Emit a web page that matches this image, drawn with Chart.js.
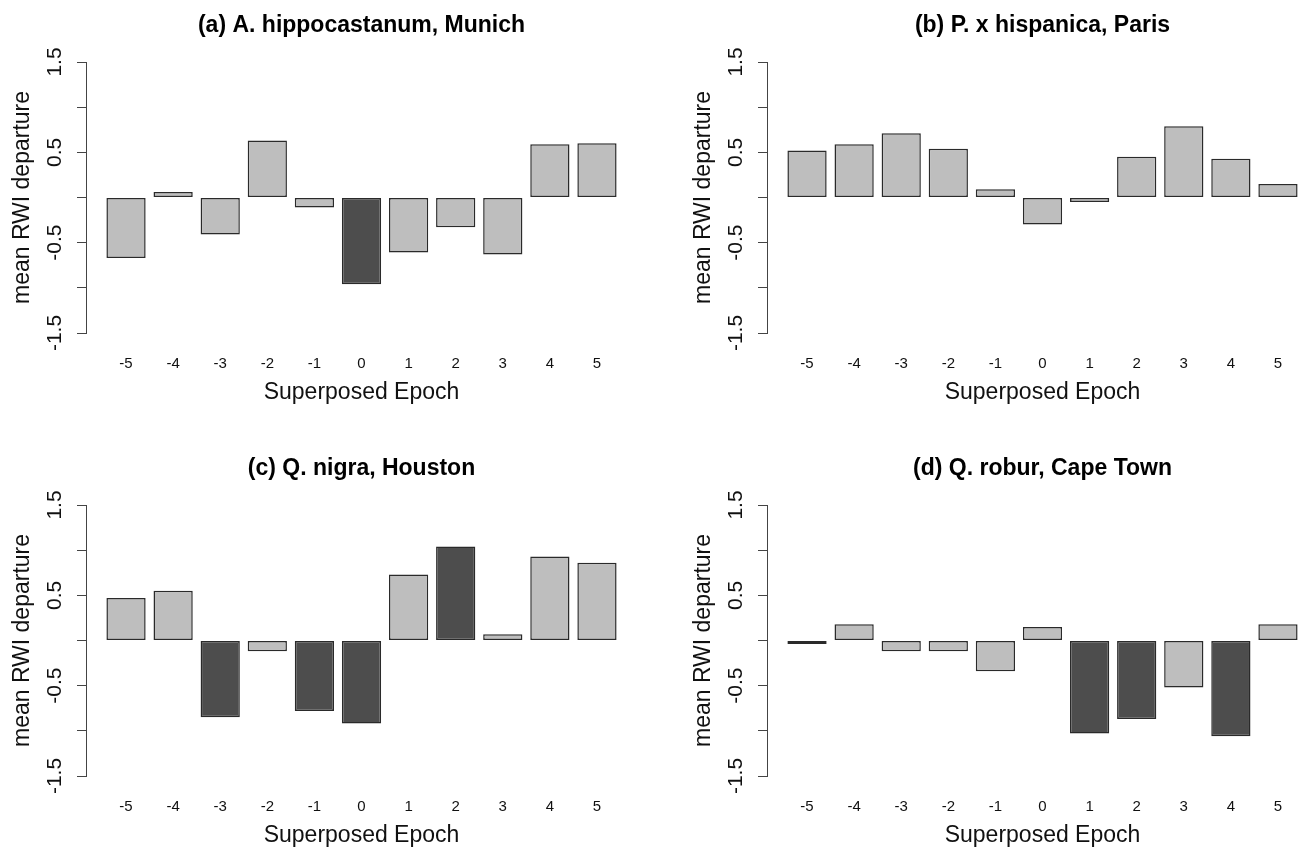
<!DOCTYPE html>
<html>
<head>
<meta charset="utf-8">
<script src="https://cdn.jsdelivr.net/npm/chart.js@4.4.1/dist/chart.umd.min.js"></script>
<style>
  html, body { margin: 0; padding: 0; background: #fff; }
  body { width: 1304px; height: 852px; overflow: hidden; position: relative; }
  canvas { position: absolute; }
</style>
</head>
<body>
<canvas id="chartA" width="652" height="443" style="left:0px;top:0px"></canvas>
<canvas id="chartB" width="652" height="443" style="left:681px;top:0px"></canvas>
<canvas id="chartC" width="652" height="443" style="left:0px;top:443px"></canvas>
<canvas id="chartD" width="652" height="443" style="left:681px;top:443px"></canvas>
<script>
// epocas (eixo x) e valores
const epochs = [-5, -4, -3, -2, -1, 0, 1, 2, 3, 4, 5];
const yTickLabels = [-1.5, -0.5, 0.5, 1.5];

const titles = [
  '(a) A. hippocastanum, Munich',
  '(b) P. x hispanica, Paris',
  '(c) Q. nigra, Houston',
  '(d) Q. robur, Cape Town'
];

const munich   = [-0.67, 0.06, -0.41, 0.63, -0.11, -0.96, -0.61, -0.33, -0.63, 0.59, 0.60];
const paris    = [0.52, 0.59, 0.71, 0.54, 0.09, -0.30, -0.05, 0.45, 0.79, 0.43, 0.15];
const houston  = [0.47, 0.55, -0.85, -0.12, -0.78, -0.92, 0.73, 1.04, 0.07, 0.93, 0.86];
const capeTown = [-0.04, 0.18, -0.12, -0.12, -0.34, 0.15, -1.03, -0.87, -0.52, -1.06, 0.18];

// barras escuras = significativas
const munichSig   = [0, 0, 0, 0, 0, 1, 0, 0, 0, 0, 0];
const parisSig    = [0, 0, 0, 0, 0, 0, 0, 0, 0, 0, 0];
const houstonSig  = [0, 0, 1, 0, 1, 1, 0, 1, 0, 0, 0];
const capeTownSig = [0, 0, 0, 0, 0, 0, 1, 1, 0, 1, 0];

const series = [munich, paris, houston, capeTown];
const sigs = [munichSig, parisSig, houstonSig, capeTownSig];
const canvasIds = ['chartA', 'chartB', 'chartC', 'chartD'];

Chart.defaults.font.family = '"Liberation Sans", Arial, sans-serif';
Chart.defaults.color = '#111';

function makeChart(idx) {
  var ctx = document.getElementById(canvasIds[idx]).getContext('2d');
  var values = series[idx];
  var sig = sigs[idx];

  return new Chart(ctx, {
    type: 'bar',
    data: {
      datasets: [{
        data: epochs.map((e, i) => ({ x: e, y: values[i] })),
        backgroundColor: sig.map(s => s ? '#4d4d4d' : '#bebebe'),
        borderColor: '#2a2a2a',
        borderWidth: 1.5,
        borderSkipped: false,
        categoryPercentage: 1,
        barPercentage: 0.833
      }]
    },
    options: {
      responsive: false,
      animation: false,
      devicePixelRatio: 1,
      layout: { padding: { left: 0, right: 15, top: 0, bottom: 0 } },
      plugins: {
        legend: { display: false },
        tooltip: { enabled: false },
        title: {
          display: true,
          text: titles[idx],
          fullSize: false,
          color: '#000',
          font: { size: 23, weight: 'bold' },
          padding: { top: 11.4, bottom: 23 }
        }
      },
      scales: {
        x: {
          type: 'linear',
          offset: false,
          min: -5.85,
          max: 5.85,
          afterBuildTicks: function(scale) {
            scale.ticks = epochs.map(v => ({ value: v }));
          },
          afterFit: function(scale) { scale.height = 110; },
          grid: { display: false, drawTicks: false },
          border: { display: false },
          ticks: {
            autoSkip: false,
            maxRotation: 0,
            padding: 22,
            font: { size: 15 },
            color: '#111'
          },
          title: {
            display: true,
            text: 'Superposed Epoch',
            color: '#111',
            font: { size: 23 },
            padding: { top: 0, bottom: 36.8 }
          }
        },
        y: {
          min: -1.5,
          max: 1.5,
          afterFit: function(scale) { scale.width = 86; },
          grid: { drawOnChartArea: false, drawTicks: true, tickLength: 9, color: '#444', lineWidth: 1 },
          border: { display: true, color: '#444', width: 1 },
          ticks: {
            stepSize: 0.5,
            autoSkip: false,
            minRotation: 90,
            maxRotation: 90,
            crossAlign: 'center',
            padding: 4,
            font: { size: 21 },
            color: '#111',
            callback: function(v) {
              return yTickLabels.includes(v) ? v.toFixed(1) : '';
            }
          },
          title: {
            display: true,
            text: 'mean RWI departure',
            color: '#111',
            font: { size: 23 },
            padding: { top: 9, bottom: 0 }
          }
        }
      }
    }
  });
}

const charts = [0, 1, 2, 3].map(makeChart);
</script>
</body>
</html>
